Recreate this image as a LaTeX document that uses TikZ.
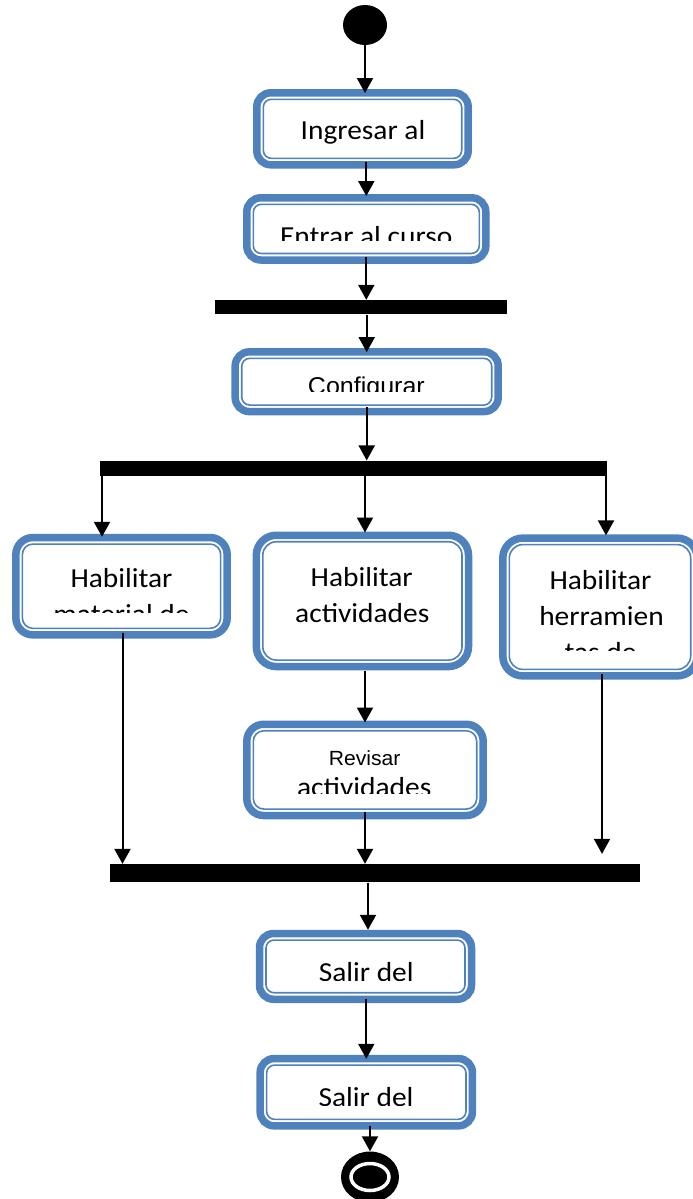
\documentclass[tikz,border=0pt]{standalone}
\usepackage{fontspec}
\setmainfont{Carlito}[FakeStretch=1.07]
\newfontfamily\arialfont{Liberation Sans}[FakeStretch=1.03]
\usetikzlibrary{arrows.meta,shapes.geometric}
\definecolor{actblue}{RGB}{79,129,189}

\tikzset{
  % activity box: thick outer frame plus a thin inner frame
  actframe/.style 2 args={draw=actblue, line width=7.5pt, rounded corners=#1, fill=white,
    inner sep=0pt,
    path picture={\draw[actblue, line width=1.6pt, rounded corners=#2]
      ([shift={(6.5pt,-6.5pt)}]path picture bounding box.north west) rectangle
      ([shift={(-6.5pt,6.5pt)}]path picture bounding box.south east);}},
  actbox/.style={actframe={14pt}{8pt}},
  actboxmid/.style={actframe={17pt}{10.5pt}},
  actboxbig/.style={actframe={20pt}{13.5pt}},
  syncbar/.style={fill=black, inner sep=0pt},
  flow/.style={line width=2pt, -{Triangle[width=16pt,length=15pt]}},
  lbl/.style={inner sep=0pt, anchor=base, font=\fontsize{27.5}{36}\selectfont},
  lblarial/.style={inner sep=0pt, anchor=base, font=\arialfont\fontsize{#1}{#1}\selectfont},
}

\begin{document}
\begin{tikzpicture}[x=1pt,y=-1pt]
  \fill[white] (0,0) rectangle (693,1199);
  \useasboundingbox (0,0) rectangle (693,1199);

  % initial and final states
  \node[ellipse, fill=black, inner sep=0pt, minimum width=44pt, minimum height=40pt]
    (start) at (365,25) {};
  \node[ellipse, fill=black, inner sep=0pt, minimum width=58pt, minimum height=51pt,
    path picture={\draw[white, line width=3.5pt] (path picture bounding box.center)
      ellipse [x radius=19pt, y radius=13.5pt];}]
    (stop) at (370,1177) {};

  % activities
  \node[actbox, minimum width=211.4pt, minimum height=72pt]  (ingresar)   at (362.5,128.8) {};
  \node[actbox, minimum width=239pt,   minimum height=62.2pt] (entrar)    at (366.3,228.9) {};
  \node[actbox, minimum width=263pt,   minimum height=59.7pt] (configurar) at (366.7,381.7) {};
  \node[actboxmid, minimum width=211.3pt, minimum height=97.3pt] (hab1)  at (121.5,586.2) {};
  \node[actboxbig, minimum width=212.2pt, minimum height=131.3pt] (hab2) at (362.4,600.9) {};
  \node[actboxbig, minimum width=194.4pt, minimum height=137.8pt] (hab3) at (600,607) {};
  \node[actboxmid, minimum width=236.4pt, minimum height=91.3pt] (revisar) at (365,769.9) {};
  \node[actbox, minimum width=212pt,   minimum height=65.7pt] (salir1)    at (365.5,966.4) {};
  \node[actbox, minimum width=212.3pt, minimum height=67.3pt] (salir2)    at (366.3,1092.2) {};

  % synchronisation bars
  \node[syncbar, minimum width=291.7pt, minimum height=14.3pt] (fork1) at (360.9,307.2) {};
  \node[syncbar, minimum width=506.7pt, minimum height=15.3pt] (fork2) at (353.3,468.3) {};
  \node[syncbar, minimum width=530pt,   minimum height=18.3pt] (join)  at (374.8,873.2) {};

  % labels (text boxes cut off at their lower edge)
  \node[lbl] (t-ingresar) at (363,139.3) {Ingresar al};
  \begin{scope}
    \clip (250,200) rectangle (485,240.7);
    \node[lbl] (t-entrar) at (366.2,245.6) {Entrar al curso};
  \end{scope}
  \begin{scope}
    \clip (240,355) rectangle (495,391);
    \node[lblarial=24.3] (t-configurar) at (366.4,394.7) {Configurar};
  \end{scope}
  \node[lbl] (t-hab1a) at (121.5,587.7) {Habilitar};
  \begin{scope}
    \clip (20,595) rectangle (225,612.7);
    \node[lbl] (t-hab1b) at (121.5,623.7) {material de};
  \end{scope}
  \node[lbl] (t-hab2a) at (361.7,586.7) {Habilitar};
  \node[lbl] (t-hab2b) at (362.3,622.3) {actividades};
  \node[lbl] (t-hab3a) at (600.5,589.3) {Habilitar};
  \node[lbl] (t-hab3b) at (601.5,625) {herramien};
  \begin{scope}
    \clip (505,632) rectangle (690,650);
    \node[lbl] (t-hab3c) at (600.5,661) {tas de};
  \end{scope}
  \node[lblarial=20.5] (t-revisar1) at (364.7,765) {Revisar};
  \begin{scope}
    \clip (250,770) rectangle (480,793.5);
    \node[lbl] (t-revisar2) at (364.2,796) {actividades};
  \end{scope}
  \begin{scope}
    \clip (260,940) rectangle (470,980);
    \node[lbl] (t-salir1) at (366.2,981.5) {Salir del};
  \end{scope}
  \begin{scope}
    \clip (260,1065) rectangle (470,1105.7);
    \node[lbl] (t-salir2) at (366,1106.5) {Salir del};
  \end{scope}

  % control flow
  \draw[flow, shorten >=-4pt] (start.south) -- (start.south |- ingresar.north);
  \draw[flow, shorten <=-7pt, shorten >=-2pt] (entrar.north |- ingresar.south) -- (entrar.north);
  \draw[flow, shorten <=-7pt] (entrar.south) -- (entrar.south |- fork1.north);
  \draw[flow, shorten >=-4pt] (configurar.north |- fork1.south) -- (configurar.north);
  \draw[flow, shorten <=-8pt] (configurar.south) -- (configurar.south |- fork2.north);
  \draw[flow, shorten >=-3pt] ([xshift=-19.5pt]hab1.north |- fork2.south) -- ([xshift=-19.5pt]hab1.north);
  \draw[flow, shorten >=-1pt] ([xshift=2.6pt]hab2.north |- fork2.south) -- ([xshift=2.6pt]hab2.north);
  \draw[flow, shorten >=-1pt] ([xshift=6pt]hab3.north |- fork2.south) -- ([xshift=6pt]hab3.north);
  \draw[flow, shorten <=-6pt] ([xshift=1pt]hab1.south) -- ([xshift=1pt]hab1.south |- join.north);
  \draw[flow, shorten <=1pt, shorten >=-2pt] (revisar.north |- hab2.south) -- (revisar.north);
  \draw[flow, shorten <=-7pt] (revisar.south) -- (revisar.south |- join.north);
  \draw[flow, shorten <=-6pt, shorten >=10pt] ([xshift=2pt]hab3.south) -- ([xshift=2pt]hab3.south |- join.north);
  \draw[flow] ([xshift=2.5pt]salir1.north |- join.south) -- ([xshift=2.5pt]salir1.north);
  \draw[flow, shorten <=-4pt, shorten >=-4pt] (salir2.north |- salir1.south) -- (salir2.north);
  \draw[flow, shorten <=-4pt] (stop.north |- salir2.south) -- (stop.north);
\end{tikzpicture}
\end{document}
